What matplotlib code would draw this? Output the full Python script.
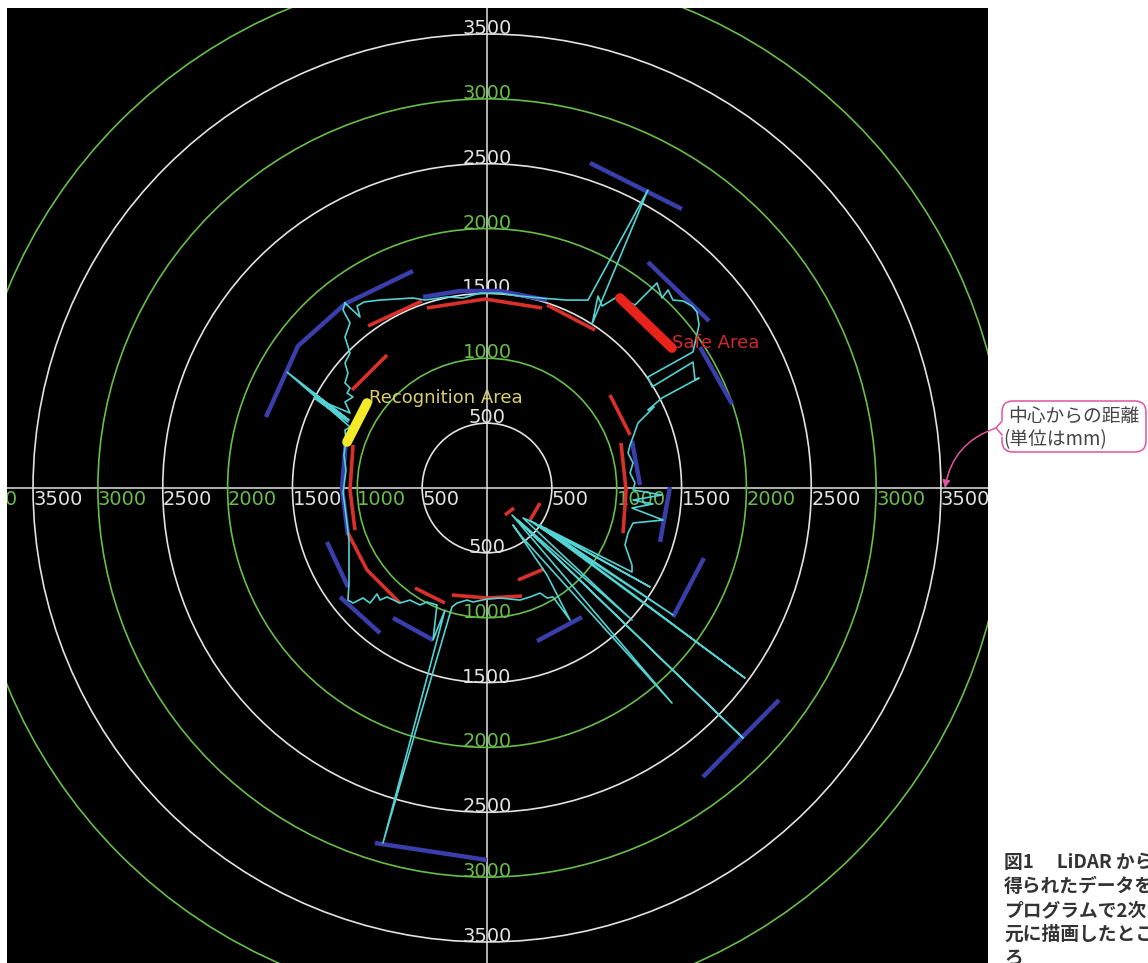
import matplotlib
matplotlib.use('Agg')
import matplotlib.pyplot as plt
from matplotlib.patches import Circle, FancyBboxPatch
from matplotlib.lines import Line2D
from matplotlib.transforms import Affine2D

# range rings around the sensor, mm
ring_r = [500, 1000, 1500, 2000, 2500, 3000, 3500, 4000]

# raw LiDAR scan, one closed sweep, mm
scan_x = [-1095, -979, -1002, -948, -825, -571, -478, -308, -185, -54, 100, 254, 409, 617, 779,
          1241, 810, 856, 887, 1002,
          1141, 1311, 1349, 1396, 1434, 1511, 1581, 1619, 1635, 1588, 1241, 1272, 1588, 1604,
          1635, 1349, 1241, 1288, 1164, 1126,
          1103, 1087, 1126, 1103, 1141, 1126, 1349, 1126, 1280, 1118, 1357, 1126, 1087, 1064,
          1118, 1118,
          447, 1257, 332, 1434, 409, 1989, 370, 278, 1118, 239, 1974, 193, 1426, 270, 200,
          463, 640, 509,
          463, 409, 332, 254, 100, 0, -108, -154, -231, -270, -802, -324, -416, -386, -463,
          -517, -594, -671, -771, -825, -848, -902, -956, -1033, -1072,
          -1064, -1064, -1095, -1110, -1087, -1103, -1087, -1095, -1056, -1542, -1064, -1349,
          -1072, -1334, -1056,
          -1095, -1033, -1079, -1056, -1095, -1072, -1095, -1056, -1095, -1056, -1110, -1095]
scan_y = [1426, 1318, 1403, 1434, 1449, 1465, 1449, 1473, 1465, 1503, 1503, 1480, 1465, 1449, 1449,
          2298, 1264, 1480, 1403, 1473,
          1411, 1581, 1465, 1527, 1449, 1442, 1403, 1357, 1257, 1049, 856, 779, 971, 833,
          848, 694, 601, 625, 501, 393,
          332, 270, 193, 116, 39, -15, -54, -93, -123, -154, -247, -270, -347, -439,
          -594, -648,
          -308, -763, -254, -979, -285, -1465, -270, -231, -1018, -247, -1928, -208, -1658, -378, -285,
          -671, -1018, -840,
          -848, -810, -840, -864, -848, -856, -879, -864, -887, -917, -2737, -941, -1172, -902, -879,
          -902, -864, -887, -840, -864, -817, -887, -848, -887, -864,
          -732, -401, -146, -39, 139, 254, 370, 447, 470, 894, 524, 740,
          509, 694, 578,
          663, 702, 732, 771, 810, 887, 964, 1041, 1164, 1272, 1372, 1426]

# straight wall segments fitted to the scan, mm
blue_lines = [
    [(794, 2506), (1503, 2151)],
    [(1241, 1742), (1712, 1288)],
    [(1642, 1087), (1889, 648)],
    [(1118, 362), (1180, 23)],
    [(1411, 8), (1334, -416)],
    [(1673, -540), (1434, -995)],
    [(2251, -1635), (1665, -2228)],
    [(732, -995), (386, -1180)],
    [(-864, -2737), (0, -2868)],
    [(-725, -1002), (-416, -1172)],
    [(-1133, -840), (-825, -1118)],
    [(-1234, -416), (-1072, -763)],
    [(-1087, 370), (-1118, 0), (-1072, -362)],
    [(-1704, 547), (-1457, 1095), (-1095, 1419), (-571, 1673)],
    [(-493, 1473), (-208, 1519), (100, 1519), (463, 1449)],
]

# segments from the second pass, mm
red_lines = [
    [(-917, 1249), (-501, 1442)],
    [(-463, 1388), (-15, 1457), (424, 1388)],
    [(463, 1411), (833, 1218)],
    [(-771, 1025), (-1041, 756)],
    [(-1033, 332), (-1056, -15), (-1018, -324)],
    [(-1072, -347), (-925, -632), (-671, -887)],
    [(-555, -771), (-324, -887)],
    [(-270, -825), (0, -848), (270, -833)],
    [(139, -208), (208, -154)],
    [(332, -247), (409, -116)],
    [(239, -709), (439, -625)],
    [(948, 717), (1103, 409)],
    [(1033, 347), (1072, -15), (1049, -347)],
]

safe_area = [(1025, 1465), (1426, 1079)]
recog_area = [(-925, 655), (-1079, 355)]

WHITE = '#e2e2e2'
GREEN = '#68bd4a'
BLUE = '#3a3eaa'
RED = '#d9302c'
CYAN = '#52d2d2'
PINK = '#e0559f'

W, H = 1148, 963
fig = plt.figure(figsize=(W / 100, H / 100), dpi=100)
fig.patch.set_facecolor('white')

# panel: pixel 487,488 is the origin, 7.71 mm per pixel
mm = 7.71
ax = fig.add_axes([7 / W, 0, 981 / W, 955 / H])
ax.set_facecolor('black')
x0, x1 = (7 - 487) * mm, (988 - 487) * mm
y0, y1 = (488 - 963) * mm, (488 - 8) * mm
ax.set_xlim(x0, x1)
ax.set_ylim(y0, y1)
ax.set_xticks([])
ax.set_yticks([])
for s in ax.spines.values():
    s.set_visible(False)

ax.axhline(0, color=WHITE, lw=1.1, zorder=1)
ax.axvline(0, color=WHITE, lw=1.1, zorder=1)

for r in ring_r:
    c = GREEN if r % 1000 == 0 else WHITE
    ax.add_patch(Circle((0, 0), r, fill=False, ec=c, lw=1.2, zorder=1))
    lab = str(r)
    kw = dict(color=c, fontsize=14, family='DejaVu Sans', zorder=2, clip_on=True)
    if r < y1:
        ax.text(0, r, lab, ha='center', va='baseline', **kw)
    if -r > y0:
        ax.text(0, -r, lab, ha='center', va='baseline', **kw)
    ax.text(-r, -15, lab, ha='left', va='top', **kw)
    if r < x1:
        ax.text(r, -15, lab, ha='left', va='top', **kw)

for seg in blue_lines:
    xs, ys = zip(*seg)
    ax.plot(xs, ys, color=BLUE, lw=3.2, solid_capstyle='butt', zorder=3)

for seg in red_lines:
    xs, ys = zip(*seg)
    ax.plot(xs, ys, color=RED, lw=2.6, solid_capstyle='butt', zorder=4)

ax.plot(scan_x, scan_y, color=CYAN, lw=1.2, zorder=5)

xs, ys = zip(*safe_area)
ax.plot(xs, ys, color='#e8231c', lw=7, solid_capstyle='round', zorder=6)
ax.text(1426, 1118, 'Safe Area', color='#d02a2a', fontsize=13, ha='left', va='center', zorder=7)

xs, ys = zip(*recog_area)
ax.plot(xs, ys, color='#f4ea2a', lw=7, solid_capstyle='round', zorder=6)
ax.text(-910, 694, 'Recognition Area', color='#d8d06a', fontsize=13, ha='left', va='center',
        zorder=7)

# pixel coordinates on the page, y downwards
px = Affine2D().scale(1, -1).translate(0, H).scale(1 / W, 1 / H) + fig.transFigure

jp = ['Noto Sans CJK JP', 'DejaVu Sans']
box = FancyBboxPatch((1002, 401), 144, 51, boxstyle='round,pad=0,rounding_size=11',
                     transform=px, fc='white', ec=PINK, lw=1.1)
fig.add_artist(box)
fig.add_artist(Line2D([1002, 1002], [421, 435], transform=px, color='white', lw=2))
fig.add_artist(Line2D([1002, 996, 1002], [421, 428, 435], transform=px, color=PINK, lw=1.1))
fig.text(1008, 416, '中心からの距離', transform=px, family=jp, fontsize=13.5,
         color='#444444', va='center', ha='left')
fig.text(1003, 440, '(単位はmm)', transform=px, family=jp, fontsize=13.5,
         color='#444444', va='center', ha='left')

ax.annotate('', xy=(3531, 0), xycoords='data', xytext=(996, 428), textcoords=px,
            arrowprops=dict(arrowstyle='-|>', color=PINK, lw=1.1, mutation_scale=11,
                            connectionstyle='arc3,rad=0.3', shrinkA=0, shrinkB=0),
            annotation_clip=False, zorder=10)

# caption runs past the page edge on the right
caption = ['図1　 LiDAR から', '得られたデータを', 'プログラムで2次', '元に描画したとこ', 'ろ']
for i, line in enumerate(caption):
    fig.text(1004, 863 + 23.7 * i, line, transform=px, family=jp, fontsize=13.5,
             fontweight='bold', color='#333333', va='center', ha='left')

fig.savefig('out.png', dpi=100)
